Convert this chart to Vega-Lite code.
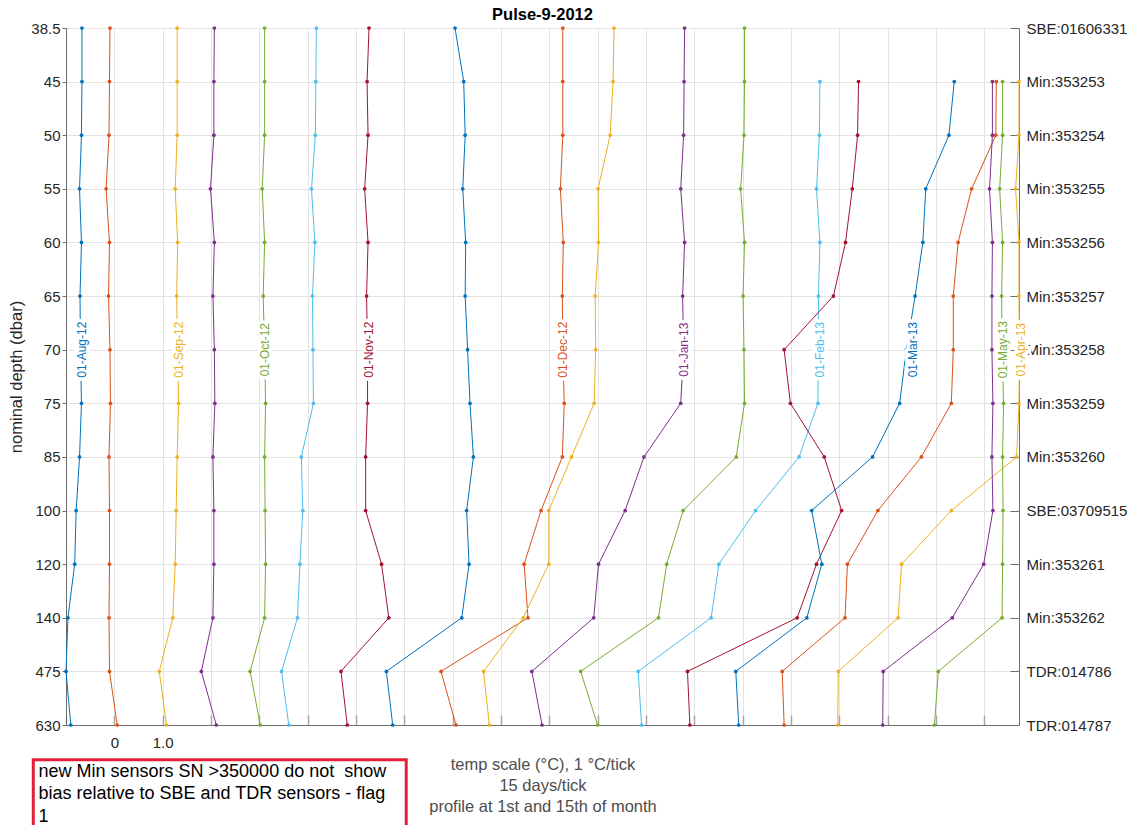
{
  "$schema": "https://vega.github.io/schema/vega-lite/v6.json",
  "width": 953,
  "height": 697,
  "autosize": {"type": "none"},
  "padding": {"left": 66, "top": 28, "right": 120, "bottom": 100},
  "background": "white",
  "config": {"view": {"stroke": null}, "font": "Liberation Sans"},
  "title": {"text": "Pulse-9-2012", "fontSize": 16.5, "fontWeight": "bold", "color": "#000000", "anchor": "middle", "offset": 5, "dy": 7, "font": "Liberation Sans"},
  "datasets": {
    "profiles": [
      {"p":"01-Aug-12","d":38.5,"x":-0.67},{"p":"01-Aug-12","d":45,"x":-0.67},{"p":"01-Aug-12","d":50,"x":-0.68},{"p":"01-Aug-12","d":55,"x":-0.72},{"p":"01-Aug-12","d":60,"x":-0.68},{"p":"01-Aug-12","d":65,"x":-0.71},{"p":"01-Aug-12","d":70,"x":-0.70},{"p":"01-Aug-12","d":75,"x":-0.68},{"p":"01-Aug-12","d":85,"x":-0.72},{"p":"01-Aug-12","d":100,"x":-0.79},{"p":"01-Aug-12","d":120,"x":-0.82},{"p":"01-Aug-12","d":140,"x":-0.96},{"p":"01-Aug-12","d":475,"x":-1.0},{"p":"01-Aug-12","d":630,"x":-0.90},
      {"p":"15-Aug-12","d":38.5,"x":-0.09},{"p":"15-Aug-12","d":45,"x":-0.10},{"p":"15-Aug-12","d":50,"x":-0.11},{"p":"15-Aug-12","d":55,"x":-0.17},{"p":"15-Aug-12","d":60,"x":-0.10},{"p":"15-Aug-12","d":65,"x":-0.12},{"p":"15-Aug-12","d":70,"x":-0.09},{"p":"15-Aug-12","d":75,"x":-0.08},{"p":"15-Aug-12","d":85,"x":-0.11},{"p":"15-Aug-12","d":100,"x":-0.10},{"p":"15-Aug-12","d":120,"x":-0.10},{"p":"15-Aug-12","d":140,"x":-0.11},{"p":"15-Aug-12","d":475,"x":-0.10},{"p":"15-Aug-12","d":630,"x":0.06},
      {"p":"01-Sep-12","d":38.5,"x":1.30},{"p":"01-Sep-12","d":45,"x":1.30},{"p":"01-Sep-12","d":50,"x":1.30},{"p":"01-Sep-12","d":55,"x":1.26},{"p":"01-Sep-12","d":60,"x":1.31},{"p":"01-Sep-12","d":65,"x":1.29},{"p":"01-Sep-12","d":70,"x":1.31},{"p":"01-Sep-12","d":75,"x":1.33},{"p":"01-Sep-12","d":85,"x":1.30},{"p":"01-Sep-12","d":100,"x":1.28},{"p":"01-Sep-12","d":120,"x":1.26},{"p":"01-Sep-12","d":140,"x":1.21},{"p":"01-Sep-12","d":475,"x":0.93},{"p":"01-Sep-12","d":630,"x":1.08},
      {"p":"15-Sep-12","d":38.5,"x":2.07},{"p":"15-Sep-12","d":45,"x":2.06},{"p":"15-Sep-12","d":50,"x":2.06},{"p":"15-Sep-12","d":55,"x":1.99},{"p":"15-Sep-12","d":60,"x":2.07},{"p":"15-Sep-12","d":65,"x":2.04},{"p":"15-Sep-12","d":70,"x":2.07},{"p":"15-Sep-12","d":75,"x":2.08},{"p":"15-Sep-12","d":85,"x":2.04},{"p":"15-Sep-12","d":100,"x":2.06},{"p":"15-Sep-12","d":120,"x":2.06},{"p":"15-Sep-12","d":140,"x":2.04},{"p":"15-Sep-12","d":475,"x":1.80},{"p":"15-Sep-12","d":630,"x":2.11},
      {"p":"01-Oct-12","d":38.5,"x":3.11},{"p":"01-Oct-12","d":45,"x":3.11},{"p":"01-Oct-12","d":50,"x":3.11},{"p":"01-Oct-12","d":55,"x":3.06},{"p":"01-Oct-12","d":60,"x":3.11},{"p":"01-Oct-12","d":65,"x":3.08},{"p":"01-Oct-12","d":70,"x":3.11},{"p":"01-Oct-12","d":75,"x":3.13},{"p":"01-Oct-12","d":85,"x":3.11},{"p":"01-Oct-12","d":100,"x":3.12},{"p":"01-Oct-12","d":120,"x":3.13},{"p":"01-Oct-12","d":140,"x":3.11},{"p":"01-Oct-12","d":475,"x":2.81},{"p":"01-Oct-12","d":630,"x":3.02},
      {"p":"15-Oct-12","d":38.5,"x":4.18},{"p":"15-Oct-12","d":45,"x":4.17},{"p":"15-Oct-12","d":50,"x":4.16},{"p":"15-Oct-12","d":55,"x":4.08},{"p":"15-Oct-12","d":60,"x":4.15},{"p":"15-Oct-12","d":65,"x":4.10},{"p":"15-Oct-12","d":70,"x":4.11},{"p":"15-Oct-12","d":75,"x":4.12},{"p":"15-Oct-12","d":85,"x":3.87},{"p":"15-Oct-12","d":100,"x":3.90},{"p":"15-Oct-12","d":120,"x":3.84},{"p":"15-Oct-12","d":140,"x":3.79},{"p":"15-Oct-12","d":475,"x":3.46},{"p":"15-Oct-12","d":630,"x":3.61},
      {"p":"01-Nov-12","d":38.5,"x":5.27},{"p":"01-Nov-12","d":45,"x":5.23},{"p":"01-Nov-12","d":50,"x":5.25},{"p":"01-Nov-12","d":55,"x":5.18},{"p":"01-Nov-12","d":60,"x":5.25},{"p":"01-Nov-12","d":65,"x":5.22},{"p":"01-Nov-12","d":70,"x":5.24},{"p":"01-Nov-12","d":75,"x":5.24},{"p":"01-Nov-12","d":85,"x":5.20},{"p":"01-Nov-12","d":100,"x":5.20},{"p":"01-Nov-12","d":120,"x":5.53},{"p":"01-Nov-12","d":140,"x":5.68},{"p":"01-Nov-12","d":475,"x":4.69},{"p":"01-Nov-12","d":630,"x":4.82},
      {"p":"15-Nov-12","d":38.5,"x":7.05},{"p":"15-Nov-12","d":45,"x":7.23},{"p":"15-Nov-12","d":50,"x":7.26},{"p":"15-Nov-12","d":55,"x":7.21},{"p":"15-Nov-12","d":60,"x":7.27},{"p":"15-Nov-12","d":65,"x":7.26},{"p":"15-Nov-12","d":70,"x":7.31},{"p":"15-Nov-12","d":75,"x":7.36},{"p":"15-Nov-12","d":85,"x":7.43},{"p":"15-Nov-12","d":100,"x":7.29},{"p":"15-Nov-12","d":120,"x":7.34},{"p":"15-Nov-12","d":140,"x":7.19},{"p":"15-Nov-12","d":475,"x":5.63},{"p":"15-Nov-12","d":630,"x":5.76},
      {"p":"01-Dec-12","d":38.5,"x":9.28},{"p":"01-Dec-12","d":45,"x":9.28},{"p":"01-Dec-12","d":50,"x":9.28},{"p":"01-Dec-12","d":55,"x":9.23},{"p":"01-Dec-12","d":60,"x":9.29},{"p":"01-Dec-12","d":65,"x":9.27},{"p":"01-Dec-12","d":70,"x":9.28},{"p":"01-Dec-12","d":75,"x":9.31},{"p":"01-Dec-12","d":85,"x":9.27},{"p":"01-Dec-12","d":100,"x":8.83},{"p":"01-Dec-12","d":120,"x":8.48},{"p":"01-Dec-12","d":140,"x":8.56},{"p":"01-Dec-12","d":475,"x":6.76},{"p":"01-Dec-12","d":630,"x":7.07},
      {"p":"15-Dec-12","d":38.5,"x":10.34},{"p":"15-Dec-12","d":45,"x":10.32},{"p":"15-Dec-12","d":50,"x":10.26},{"p":"15-Dec-12","d":55,"x":10.01},{"p":"15-Dec-12","d":60,"x":10.02},{"p":"15-Dec-12","d":65,"x":9.95},{"p":"15-Dec-12","d":70,"x":9.96},{"p":"15-Dec-12","d":75,"x":9.93},{"p":"15-Dec-12","d":85,"x":9.46},{"p":"15-Dec-12","d":100,"x":8.99},{"p":"15-Dec-12","d":120,"x":8.99},{"p":"15-Dec-12","d":140,"x":8.46},{"p":"15-Dec-12","d":475,"x":7.64},{"p":"15-Dec-12","d":630,"x":7.76},
      {"p":"01-Jan-13","d":38.5,"x":11.80},{"p":"01-Jan-13","d":45,"x":11.79},{"p":"01-Jan-13","d":50,"x":11.78},{"p":"01-Jan-13","d":55,"x":11.72},{"p":"01-Jan-13","d":60,"x":11.80},{"p":"01-Jan-13","d":65,"x":11.76},{"p":"01-Jan-13","d":70,"x":11.78},{"p":"01-Jan-13","d":75,"x":11.72},{"p":"01-Jan-13","d":85,"x":10.96},{"p":"01-Jan-13","d":100,"x":10.57},{"p":"01-Jan-13","d":120,"x":10.02},{"p":"01-Jan-13","d":140,"x":9.92},{"p":"01-Jan-13","d":475,"x":8.64},{"p":"01-Jan-13","d":630,"x":8.85},
      {"p":"15-Jan-13","d":38.5,"x":13.04},{"p":"15-Jan-13","d":45,"x":13.04},{"p":"15-Jan-13","d":50,"x":13.03},{"p":"15-Jan-13","d":55,"x":12.96},{"p":"15-Jan-13","d":60,"x":13.04},{"p":"15-Jan-13","d":65,"x":13.01},{"p":"15-Jan-13","d":70,"x":13.03},{"p":"15-Jan-13","d":75,"x":13.04},{"p":"15-Jan-13","d":85,"x":12.87},{"p":"15-Jan-13","d":100,"x":11.77},{"p":"15-Jan-13","d":120,"x":11.43},{"p":"15-Jan-13","d":140,"x":11.26},{"p":"15-Jan-13","d":475,"x":9.65},{"p":"15-Jan-13","d":630,"x":10.00},
      {"p":"01-Feb-13","d":45,"x":14.60},{"p":"01-Feb-13","d":50,"x":14.59},{"p":"01-Feb-13","d":55,"x":14.53},{"p":"01-Feb-13","d":60,"x":14.60},{"p":"01-Feb-13","d":65,"x":14.57},{"p":"01-Feb-13","d":70,"x":14.57},{"p":"01-Feb-13","d":75,"x":14.56},{"p":"01-Feb-13","d":85,"x":14.17},{"p":"01-Feb-13","d":100,"x":13.27},{"p":"01-Feb-13","d":120,"x":12.51},{"p":"01-Feb-13","d":140,"x":12.35},{"p":"01-Feb-13","d":475,"x":10.84},{"p":"01-Feb-13","d":630,"x":10.91},
      {"p":"15-Feb-13","d":45,"x":15.40},{"p":"15-Feb-13","d":50,"x":15.38},{"p":"15-Feb-13","d":55,"x":15.27},{"p":"15-Feb-13","d":60,"x":15.13},{"p":"15-Feb-13","d":65,"x":14.88},{"p":"15-Feb-13","d":70,"x":13.86},{"p":"15-Feb-13","d":75,"x":13.99},{"p":"15-Feb-13","d":85,"x":14.69},{"p":"15-Feb-13","d":100,"x":15.05},{"p":"15-Feb-13","d":120,"x":14.53},{"p":"15-Feb-13","d":140,"x":14.13},{"p":"15-Feb-13","d":475,"x":11.86},{"p":"15-Feb-13","d":630,"x":11.91},
      {"p":"01-Mar-13","d":45,"x":17.38},{"p":"01-Mar-13","d":50,"x":17.27},{"p":"01-Mar-13","d":55,"x":16.79},{"p":"01-Mar-13","d":60,"x":16.73},{"p":"01-Mar-13","d":65,"x":16.57},{"p":"01-Mar-13","d":70,"x":16.39},{"p":"01-Mar-13","d":75,"x":16.25},{"p":"01-Mar-13","d":85,"x":15.69},{"p":"01-Mar-13","d":100,"x":14.43},{"p":"01-Mar-13","d":120,"x":14.64},{"p":"01-Mar-13","d":140,"x":14.33},{"p":"01-Mar-13","d":475,"x":12.86},{"p":"01-Mar-13","d":630,"x":12.92},
      {"p":"15-Mar-13","d":45,"x":18.25},{"p":"15-Mar-13","d":50,"x":18.24},{"p":"15-Mar-13","d":55,"x":17.74},{"p":"15-Mar-13","d":60,"x":17.46},{"p":"15-Mar-13","d":65,"x":17.36},{"p":"15-Mar-13","d":70,"x":17.36},{"p":"15-Mar-13","d":75,"x":17.32},{"p":"15-Mar-13","d":85,"x":16.70},{"p":"15-Mar-13","d":100,"x":15.80},{"p":"15-Mar-13","d":120,"x":15.17},{"p":"15-Mar-13","d":140,"x":15.12},{"p":"15-Mar-13","d":475,"x":13.82},{"p":"15-Mar-13","d":630,"x":13.86},
      {"p":"01-Apr-13","d":45,"x":18.72},{"p":"01-Apr-13","d":50,"x":18.72},{"p":"01-Apr-13","d":55,"x":18.65},{"p":"01-Apr-13","d":60,"x":18.72},{"p":"01-Apr-13","d":65,"x":18.72},{"p":"01-Apr-13","d":70,"x":18.73},{"p":"01-Apr-13","d":75,"x":18.72},{"p":"01-Apr-13","d":85,"x":18.67},{"p":"01-Apr-13","d":100,"x":17.32},{"p":"01-Apr-13","d":120,"x":16.29},{"p":"01-Apr-13","d":140,"x":16.22},{"p":"01-Apr-13","d":475,"x":14.98},{"p":"01-Apr-13","d":630,"x":14.97},
      {"p":"15-Apr-13","d":45,"x":18.17},{"p":"15-Apr-13","d":50,"x":18.17},{"p":"15-Apr-13","d":55,"x":18.11},{"p":"15-Apr-13","d":60,"x":18.17},{"p":"15-Apr-13","d":65,"x":18.16},{"p":"15-Apr-13","d":70,"x":18.16},{"p":"15-Apr-13","d":75,"x":18.18},{"p":"15-Apr-13","d":85,"x":18.16},{"p":"15-Apr-13","d":100,"x":18.18},{"p":"15-Apr-13","d":120,"x":17.99},{"p":"15-Apr-13","d":140,"x":17.34},{"p":"15-Apr-13","d":475,"x":15.91},{"p":"15-Apr-13","d":630,"x":15.90},
      {"p":"01-May-13","d":45,"x":18.38},{"p":"01-May-13","d":50,"x":18.38},{"p":"01-May-13","d":55,"x":18.32},{"p":"01-May-13","d":60,"x":18.38},{"p":"01-May-13","d":65,"x":18.36},{"p":"01-May-13","d":70,"x":18.37},{"p":"01-May-13","d":75,"x":18.40},{"p":"01-May-13","d":85,"x":18.38},{"p":"01-May-13","d":100,"x":18.39},{"p":"01-May-13","d":120,"x":18.38},{"p":"01-May-13","d":140,"x":18.37},{"p":"01-May-13","d":475,"x":17.05},{"p":"01-May-13","d":630,"x":16.97}
    ],
    "labels": [
      {"p":"01-Aug-12","d":70,"x":-0.67},{"p":"01-Sep-12","d":70,"x":1.33},{"p":"01-Oct-12","d":70,"x":3.12},{"p":"01-Nov-12","d":70,"x":5.26},{"p":"01-Dec-12","d":70,"x":9.28},{"p":"01-Jan-13","d":70,"x":11.79},{"p":"01-Feb-13","d":70,"x":14.61},{"p":"01-Mar-13","d":70,"x":16.52},{"p":"01-May-13","d":70,"x":18.39},{"p":"01-Apr-13","d":70,"x":18.76}
    ]
  },
  "layer": [
    {
      "data": {"name": "profiles"},
      "mark": {"type": "line", "strokeWidth": 1},
      "encoding": {
        "x": {
          "field": "x", "type": "quantitative",
          "scale": {"domain": [-1, 18.72], "nice": false, "zero": false},
          "axis": {
            "orient": "bottom",
            "values": [-1,0,1,2,3,4,5,6,7,8,9,10,11,12,13,14,15,16,17,18],
            "grid": true, "gridColor": "#e3e3e3",
            "labelExpr": "datum.value == 0 ? '0' : (datum.value == 1 ? '1.0' : '')",
            "labelFontSize": 15, "labelColor": "#262626", "labelPadding": 20.5,
            "tickSize": -10, "tickColor": "#a6a6a6", "tickWidth": 1.5,
            "domainColor": "#6e6e6e",
            "title": ["temp scale (°C), 1 °C/tick", "15 days/tick", "profile at 1st and 15th of month"],
            "titleFontSize": 16.5, "titleFontWeight": "normal", "titleColor": "#4d4d4d",
            "titleLineHeight": 21, "titlePadding": 6
          }
        },
        "y": {
          "field": "d", "type": "ordinal",
          "scale": {"type": "point", "domain": [38.5,45,50,55,60,65,70,75,85,100,120,140,475,630], "padding": 0},
          "axis": {
            "orient": "left", "grid": true, "gridColor": "#e3e3e3",
            "labelFontSize": 15, "labelColor": "#262626", "labelPadding": 2,
            "tickSize": 4, "tickColor": "#6e6e6e", "domainColor": "#6e6e6e",
            "title": "nominal depth (dbar)", "titleFontSize": 16.5, "titleFontWeight": "normal",
            "titleColor": "#262626", "titlePadding": 6
          }
        },
        "color": {
          "field": "p", "type": "nominal", "legend": null,
          "scale": {
            "domain": ["01-Aug-12","15-Aug-12","01-Sep-12","15-Sep-12","01-Oct-12","15-Oct-12","01-Nov-12","15-Nov-12","01-Dec-12","15-Dec-12","01-Jan-13","15-Jan-13","01-Feb-13","15-Feb-13","01-Mar-13","15-Mar-13","01-Apr-13","15-Apr-13","01-May-13"],
            "range": ["#0072BD","#D95319","#EDB120","#7E2F8E","#77AC30","#4DBEEE","#A2142F","#0072BD","#D95319","#EDB120","#7E2F8E","#77AC30","#4DBEEE","#A2142F","#0072BD","#D95319","#EDB120","#7E2F8E","#77AC30"]
          }
        },
        "order": {"field": "d", "type": "quantitative"}
      }
    },
    {
      "data": {"name": "profiles"},
      "mark": {"type": "point", "filled": true, "size": 14, "opacity": 1},
      "encoding": {
        "x": {"field": "x", "type": "quantitative"},
        "y": {
          "field": "d", "type": "ordinal",
          "scale": {"type": "point", "domain": [38.5,45,50,55,60,65,70,75,85,100,120,140,475,630], "padding": 0},
          "axis": {
            "orient": "right", "grid": false,
            "labelExpr": "['SBE:01606331','Min:353253','Min:353254','Min:353255','Min:353256','Min:353257','Min:353258','Min:353259','Min:353260','SBE:03709515','Min:353261','Min:353262','TDR:014786','TDR:014787'][indexof([38.5,45,50,55,60,65,70,75,85,100,120,140,475,630], datum.value)]",
            "labelFontSize": 15, "labelColor": "#262626", "labelPadding": 16,
            "tickSize": -9, "tickColor": "#6e6e6e", "domainColor": "#6e6e6e", "title": null
          }
        },
        "color": {"field": "p", "type": "nominal", "legend": null}
      }
    },
    {
      "data": {"name": "labels"},
      "mark": {"type": "text", "angle": 270, "fontSize": 12, "align": "center", "baseline": "middle", "fill": "white", "stroke": "white", "strokeWidth": 7, "strokeJoin": "round"},
      "encoding": {
        "x": {"field": "x", "type": "quantitative"},
        "y": {"field": "d", "type": "ordinal", "scale": {"type": "point", "domain": [38.5,45,50,55,60,65,70,75,85,100,120,140,475,630], "padding": 0}, "axis": null},
        "text": {"field": "p"}
      }
    },
    {
      "data": {"name": "labels"},
      "mark": {"type": "text", "angle": 270, "fontSize": 12, "align": "center", "baseline": "middle"},
      "encoding": {
        "x": {"field": "x", "type": "quantitative"},
        "y": {"field": "d", "type": "ordinal", "scale": {"type": "point", "domain": [38.5,45,50,55,60,65,70,75,85,100,120,140,475,630], "padding": 0}, "axis": null},
        "text": {"field": "p"},
        "color": {"field": "p", "type": "nominal", "legend": null}
      }
    },
    {
      "data": {"values": [{}]},
      "mark": {"type": "rect", "fill": "white", "stroke": "#E3203A", "strokeWidth": 3},
      "encoding": {
        "x": {"datum": -1.677, "type": "quantitative"},
        "x2": {"datum": 6.04},
        "y": {"datum": -0.0498, "type": "quantitative", "scale": {"domain": [0, 1]}, "axis": null},
        "y2": {"datum": -0.17}
      }
    },
    {
      "data": {"values": [{}]},
      "mark": {"type": "text", "text": ["new Min sensors SN >350000 do not\u00a0 show", "bias relative to SBE and TDR sensors - flag", "1"], "align": "left", "baseline": "alphabetic", "fontSize": 18, "lineHeight": 22.3, "color": "#000000"},
      "encoding": {
        "x": {"datum": -1.569, "type": "quantitative"},
        "y": {"datum": -0.0746, "type": "quantitative", "scale": {"domain": [0, 1]}, "axis": null}
      }
    }
  ],
  "resolve": {"scale": {"y": "independent"}}
}
